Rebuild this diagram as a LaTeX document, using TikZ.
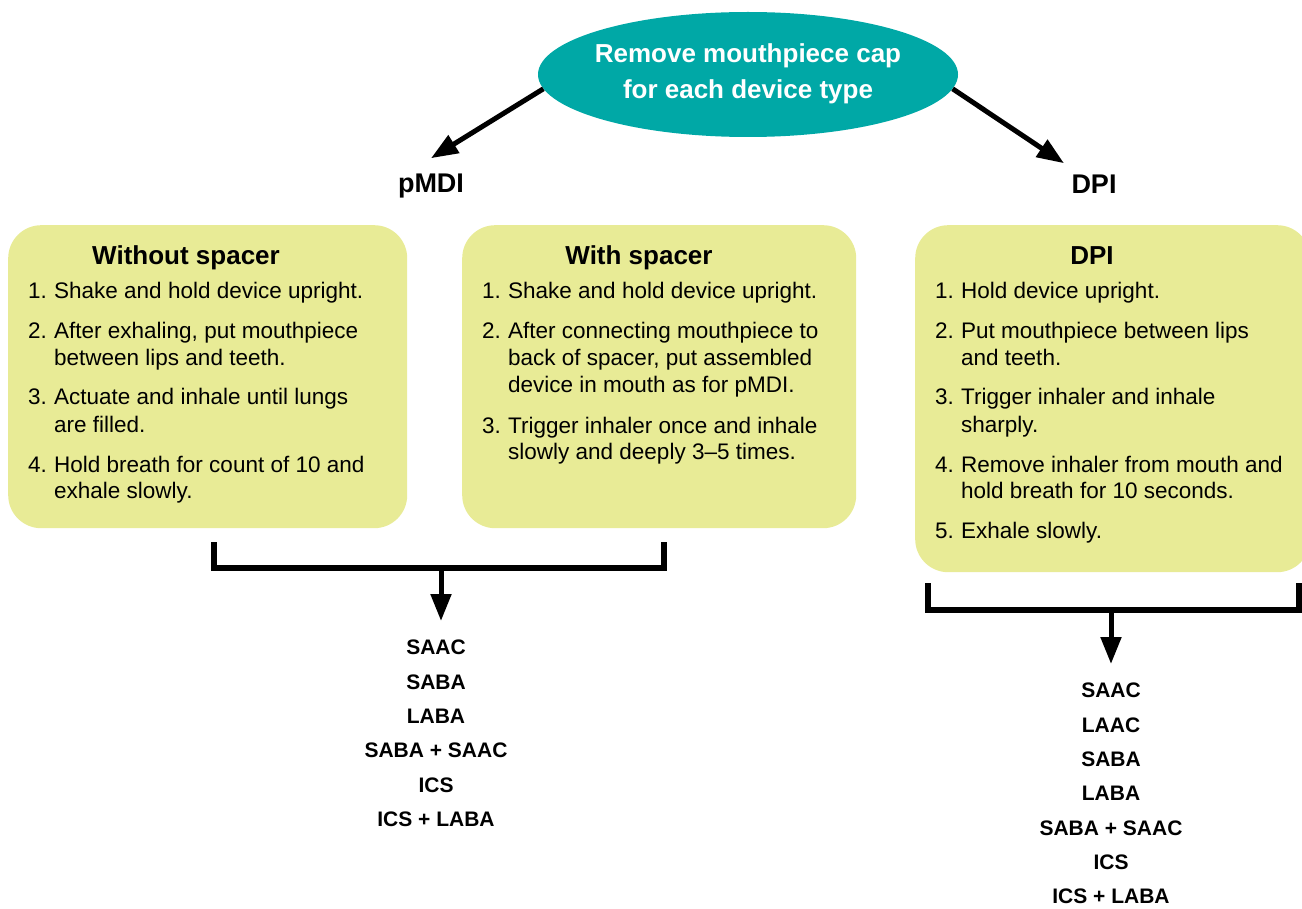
\documentclass[tikz,border=0pt]{standalone}
\usepackage{fontspec}
\setmainfont{Liberation Sans}
\usepackage{xcolor}
\usetikzlibrary{arrows.meta,shapes.geometric}

\definecolor{capteal}{RGB}{0,168,166}
\definecolor{boxyellow}{RGB}{232,235,150}

\tikzset{
  capshape/.style={ellipse, fill=capteal, minimum width=420pt, minimum height=125pt, inner sep=0pt},
  captext/.style={text=white, font=\fontsize{26}{36}\selectfont\bfseries, align=center, inner sep=0pt, anchor=north},
  devlabel/.style={font=\fontsize{27}{30}\selectfont\bfseries, inner sep=0pt, anchor=base},
  stepbox/.style={fill=boxyellow, rounded corners=33pt, anchor=north west, inner sep=0pt},
  steptitle/.style={font=\fontsize{26}{30}\selectfont\bfseries, inner sep=0pt, anchor=base},
  stepnum/.style={font=\fontsize{22.5}{27}\selectfont, inner sep=0pt, anchor=base west},
  steptext/.style={font=\fontsize{22.5}{27}\selectfont, inner sep=0pt, anchor=base west},
  druglist/.style={font=\fontsize{21}{34.3}\selectfont\bfseries, align=center, inner sep=0pt, anchor=north},
  arr/.style={line width=5pt, -{Triangle[width=20pt,length=27pt]}},
  brk/.style={line width=6pt}
}

\begin{document}
\begin{tikzpicture}[x=1pt,y=-1pt]
\useasboundingbox (0,0) rectangle (1302,909);

% top of the chart
\node[capshape] (cap) at (748,74.5) {};
\node[captext] (captxt) at (748,43) {Remove mouthpiece cap\\for each device type};

\node[devlabel] (pmdi) at (431,193) {pMDI};
\node[devlabel] (dpi) at (1094,194) {DPI};

\draw[arr] (cap.184) -- ([yshift=16pt]pmdi.north);
\draw[arr] (cap.-4) -- ([xshift=-30pt,yshift=12pt]dpi.north);

% the three boxes
\node[stepbox, minimum width=399pt, minimum height=303pt] (wobox) at (8,225) {};
\node[stepbox, minimum width=394pt, minimum height=303pt] (wsbox) at (462,225) {};
\node[stepbox, minimum width=395pt, minimum height=347pt] (dpibox) at (915,225) {};

\node[steptitle] (wotitle) at (186,265) {Without spacer};
\node[steptitle] (wstitle) at (639,265) {With spacer};
\node[steptitle] (dpititle) at (1092,265) {DPI};

\foreach \n/\y/\t in {1./299/{Shake and hold device upright.},
    2./339/{After exhaling, put mouthpiece}, /366/{between lips and teeth.},
    3./405/{Actuate and inhale until lungs}, /432/{are filled.},
    4./472/{Hold breath for count of 10 and}, /498/{exhale slowly.}}{
  \node[stepnum] (wo-n\y) at (28,\y) {\n};
  \node[steptext] (wo-t\y) at (54,\y) {\t};
}

\foreach \n/\y/\t in {1./299/{Shake and hold device upright.},
    2./339/{After connecting mouthpiece to}, /366/{back of spacer, put assembled}, /392/{device in mouth as for pMDI.},
    3./433/{Trigger inhaler once and inhale}, /459/{slowly and deeply 3–5 times.}}{
  \node[stepnum] (ws-n\y) at (482,\y) {\n};
  \node[steptext] (ws-t\y) at (508,\y) {\t};
}

\foreach \n/\y/\t in {1./299/{Hold device upright.},
    2./339/{Put mouthpiece between lips}, /366/{and teeth.},
    3./405/{Trigger inhaler and inhale}, /432/{sharply.},
    4./472/{Remove inhaler from mouth and}, /498/{hold breath for 10 seconds.},
    5./538/{Exhale slowly.}}{
  \node[stepnum] (dp-n\y) at (935,\y) {\n};
  \node[steptext] (dp-t\y) at (961,\y) {\t};
}

% brackets and drug lists
\node[druglist] (pmdilist) at (436,640) {SAAC\\SABA\\LABA\\SABA + SAAC\\ICS\\ICS + LABA};
\node[druglist] (dpilist) at (1111,683) {SAAC\\LAAC\\SABA\\LABA\\SABA + SAAC\\ICS\\ICS + LABA};

\coordinate (pbar) at (441,568);
\coordinate (dbar) at (1111,610);

\draw[brk] (214,542) |- (664,568) -- (664,542);
\draw[brk] (928,583) |- (1299,610) -- (1299,583);

\draw[arr, shorten >=19pt] (pbar) -- (pbar |- pmdilist.north);
\draw[arr, shorten >=19pt] (dbar) -- (dbar |- dpilist.north);

\end{tikzpicture}
\end{document}
